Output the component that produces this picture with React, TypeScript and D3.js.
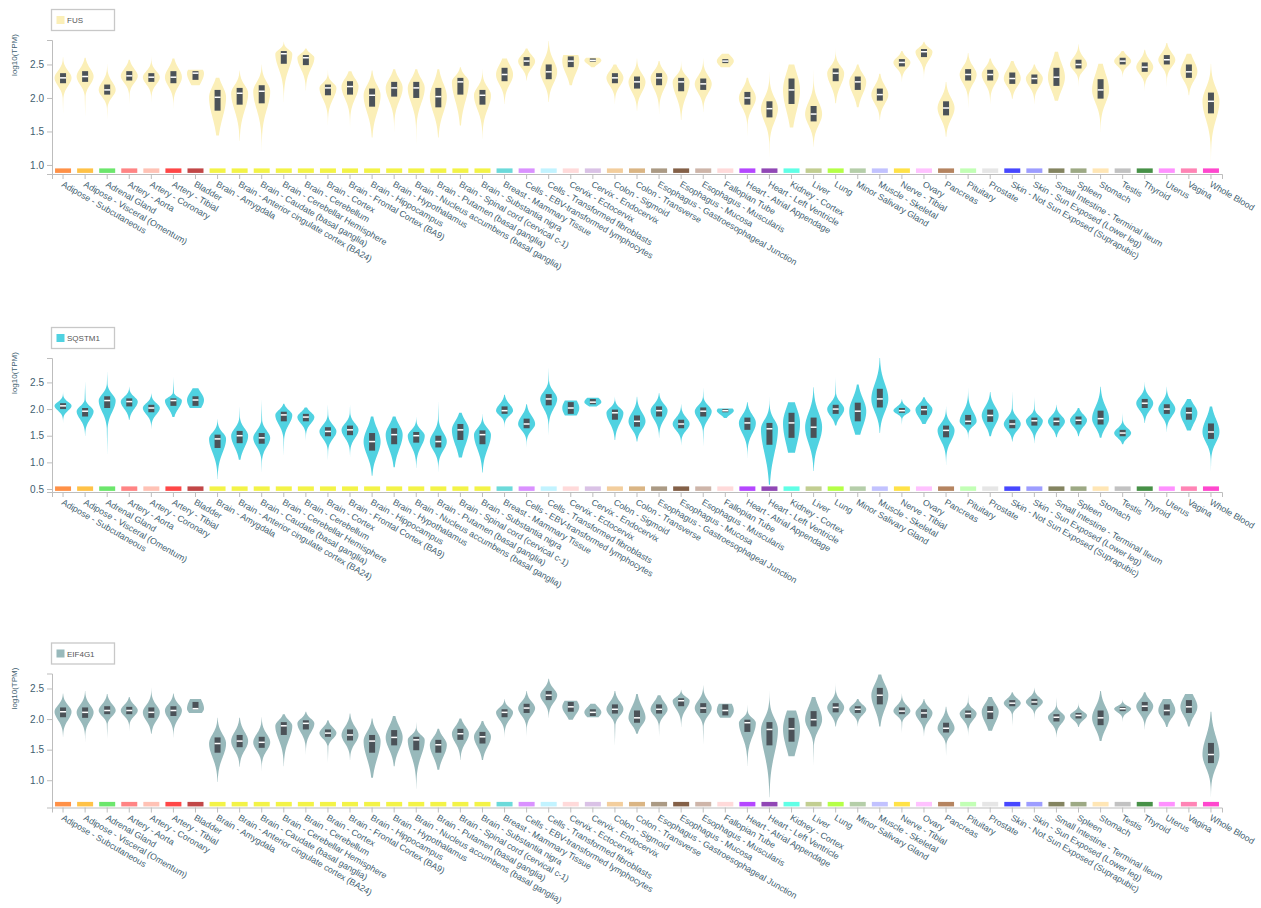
import React, { useEffect, useRef } from 'react';
import * as d3 from 'd3';

const tissues = [
  'Adipose - Subcutaneous', 'Adipose - Visceral (Omentum)', 'Adrenal Gland', 'Artery - Aorta',
  'Artery - Coronary', 'Artery - Tibial', 'Bladder', 'Brain - Amygdala',
  'Brain - Anterior cingulate cortex (BA24)', 'Brain - Caudate (basal ganglia)',
  'Brain - Cerebellar Hemisphere', 'Brain - Cerebellum', 'Brain - Cortex',
  'Brain - Frontal Cortex (BA9)', 'Brain - Hippocampus', 'Brain - Hypothalamus',
  'Brain - Nucleus accumbens (basal ganglia)', 'Brain - Putamen (basal ganglia)',
  'Brain - Spinal cord (cervical c-1)', 'Brain - Substantia nigra', 'Breast - Mammary Tissue',
  'Cells - EBV-transformed lymphocytes', 'Cells - Transformed fibroblasts', 'Cervix - Ectocervix',
  'Cervix - Endocervix', 'Colon - Sigmoid', 'Colon - Transverse',
  'Esophagus - Gastroesophageal Junction', 'Esophagus - Mucosa', 'Esophagus - Muscularis',
  'Fallopian Tube', 'Heart - Atrial Appendage', 'Heart - Left Ventricle', 'Kidney - Cortex',
  'Liver', 'Lung', 'Minor Salivary Gland', 'Muscle - Skeletal', 'Nerve - Tibial', 'Ovary',
  'Pancreas', 'Pituitary', 'Prostate', 'Skin - Not Sun Exposed (Suprapubic)',
  'Skin - Sun Exposed (Lower leg)', 'Small Intestine - Terminal Ileum', 'Spleen', 'Stomach',
  'Testis', 'Thyroid', 'Uterus', 'Vagina', 'Whole Blood',
];

const tissueColors = [
  '#FF6600', '#FFAA00', '#33DD33', '#FF5555', '#FFAA99', '#FF0000', '#AA0000',
  '#EEEE00', '#EEEE00', '#EEEE00', '#EEEE00', '#EEEE00', '#EEEE00', '#EEEE00',
  '#EEEE00', '#EEEE00', '#EEEE00', '#EEEE00', '#EEEE00', '#EEEE00',
  '#33CCCC', '#CC66FF', '#AAEEFF', '#FFCCCC', '#CCAADD', '#EEBB77', '#CC9955',
  '#8B7355', '#552200', '#BB9988', '#FFCCCC', '#9900FF', '#660099', '#22FFDD',
  '#AABB66', '#99FF00', '#99BB88', '#AAAAFF', '#FFD700', '#FFAAFF', '#995522',
  '#AAFF99', '#DDDDDD', '#0000FF', '#7777FF', '#555522', '#778855', '#FFDD99',
  '#AAAAAA', '#006600', '#FF66FF', '#FF5599', '#FF00BB',
];

// tissues with few samples: truncated, blunt violins
const smallSampleTissues = [6, 23, 24, 30];

// [tail low, Q1, median, Q3, tail high] in log10(TPM)
const fusStats = [
  [1.74, 2.22, 2.30, 2.37, 2.61], [1.69, 2.24, 2.32, 2.40, 2.60], [1.66, 2.05, 2.12, 2.20, 2.51],
  [1.89, 2.26, 2.33, 2.40, 2.57], [1.91, 2.24, 2.31, 2.37, 2.64], [1.81, 2.22, 2.31, 2.40, 2.59],
  [2.19, 2.27, 2.37, 2.40, 2.42], [1.44, 1.81, 2.01, 2.12, 2.30], [1.36, 1.90, 2.07, 2.15, 2.41],
  [1.21, 1.92, 2.10, 2.19, 2.50], [1.94, 2.51, 2.66, 2.70, 2.84], [2.11, 2.49, 2.60, 2.64, 2.74],
  [1.59, 2.04, 2.15, 2.20, 2.44], [1.54, 2.05, 2.17, 2.25, 2.40], [1.41, 1.87, 2.04, 2.14, 2.41],
  [1.49, 2.02, 2.15, 2.24, 2.43], [1.26, 2.00, 2.15, 2.24, 2.43], [1.41, 1.86, 2.02, 2.15, 2.43],
  [1.59, 2.05, 2.24, 2.30, 2.46], [1.39, 1.90, 2.04, 2.12, 2.43], [1.91, 2.25, 2.35, 2.45, 2.59],
  [2.26, 2.48, 2.55, 2.61, 2.74], [1.94, 2.28, 2.39, 2.50, 2.85], [2.19, 2.46, 2.55, 2.62, 2.64],
  [2.46, 2.54, 2.56, 2.59, 2.60], [1.91, 2.22, 2.30, 2.37, 2.50], [1.81, 2.14, 2.24, 2.32, 2.59],
  [1.76, 2.19, 2.30, 2.37, 2.55], [1.67, 2.10, 2.24, 2.30, 2.57], [1.79, 2.12, 2.21, 2.29, 2.59],
  [2.46, 2.52, 2.55, 2.58, 2.66], [1.39, 1.90, 2.00, 2.09, 2.30], [1.07, 1.71, 1.84, 1.95, 2.39],
  [1.56, 1.91, 2.12, 2.29, 2.50], [1.27, 1.65, 1.76, 1.88, 2.46], [1.92, 2.25, 2.37, 2.44, 2.75],
  [1.86, 2.12, 2.24, 2.32, 2.50], [1.67, 1.96, 2.05, 2.14, 2.36], [2.24, 2.47, 2.53, 2.58, 2.70],
  [2.26, 2.61, 2.69, 2.73, 2.84], [1.42, 1.74, 1.85, 1.95, 2.24], [1.81, 2.26, 2.35, 2.43, 2.67],
  [1.91, 2.26, 2.35, 2.42, 2.59], [1.99, 2.21, 2.29, 2.38, 2.55], [1.91, 2.21, 2.29, 2.35, 2.50],
  [1.96, 2.18, 2.31, 2.45, 2.69], [2.15, 2.44, 2.50, 2.57, 2.80], [1.49, 1.99, 2.12, 2.28, 2.51],
  [2.31, 2.50, 2.55, 2.60, 2.70], [2.10, 2.39, 2.46, 2.53, 2.72], [2.14, 2.50, 2.57, 2.64, 2.82],
  [2.04, 2.30, 2.39, 2.50, 2.66], [1.05, 1.77, 1.95, 2.08, 2.51],
];

const sqstm1Stats = [
  [1.74, 2.00, 2.06, 2.11, 2.33], [1.49, 1.86, 1.96, 2.02, 2.55], [1.08, 2.02, 2.16, 2.24, 2.74],
  [1.80, 2.05, 2.14, 2.20, 2.42], [1.63, 1.94, 2.02, 2.08, 2.29], [1.85, 2.06, 2.16, 2.20, 2.61],
  [2.02, 2.06, 2.17, 2.24, 2.39], [0.69, 1.27, 1.44, 1.52, 1.81], [1.05, 1.36, 1.50, 1.59, 2.08],
  [0.77, 1.35, 1.46, 1.55, 2.21], [1.08, 1.77, 1.89, 1.95, 2.10], [1.39, 1.77, 1.85, 1.91, 2.03],
  [1.02, 1.49, 1.58, 1.66, 2.11], [1.08, 1.51, 1.61, 1.69, 2.11], [0.75, 1.22, 1.39, 1.55, 1.86],
  [0.91, 1.34, 1.52, 1.64, 1.86], [0.89, 1.37, 1.50, 1.57, 1.86], [0.78, 1.28, 1.39, 1.50, 2.18],
  [1.09, 1.42, 1.61, 1.72, 1.93], [0.81, 1.34, 1.52, 1.60, 1.91], [1.63, 1.91, 1.97, 2.05, 2.27],
  [1.26, 1.64, 1.72, 1.82, 2.09], [1.47, 2.07, 2.19, 2.28, 2.80], [1.88, 1.91, 2.02, 2.13, 2.16],
  [2.05, 2.09, 2.13, 2.19, 2.21], [1.42, 1.80, 1.93, 1.99, 2.23], [1.39, 1.67, 1.77, 1.88, 2.23],
  [1.46, 1.86, 1.97, 2.05, 2.30], [1.32, 1.64, 1.72, 1.80, 2.09], [1.27, 1.86, 1.96, 2.03, 2.42],
  [1.83, 1.94, 1.97, 2.00, 2.01], [1.08, 1.61, 1.74, 1.84, 2.13], [0.58, 1.33, 1.63, 1.74, 2.24],
  [1.18, 1.46, 1.74, 1.93, 2.13], [0.84, 1.46, 1.66, 1.84, 2.41], [1.69, 1.91, 2.00, 2.08, 2.61],
  [1.52, 1.77, 1.96, 2.12, 2.46], [1.55, 2.03, 2.19, 2.38, 2.96], [1.69, 1.93, 1.97, 2.02, 2.19],
  [1.72, 1.89, 1.99, 2.06, 2.22], [0.94, 1.47, 1.60, 1.69, 2.05], [1.41, 1.71, 1.77, 1.89, 2.39],
  [1.49, 1.76, 1.88, 1.99, 2.32], [1.39, 1.64, 1.72, 1.80, 2.36], [1.36, 1.69, 1.78, 1.84, 2.24],
  [1.47, 1.69, 1.77, 1.84, 2.08], [1.49, 1.71, 1.79, 1.86, 2.02], [1.46, 1.71, 1.82, 1.97, 2.42],
  [1.34, 1.49, 1.55, 1.61, 1.94], [1.74, 2.02, 2.11, 2.19, 2.51], [1.57, 1.91, 2.00, 2.09, 2.42],
  [1.60, 1.80, 1.93, 2.03, 2.19], [0.80, 1.44, 1.57, 1.73, 2.05],
];

const eif4g1Stats = [
  [1.71, 2.03, 2.12, 2.19, 2.42], [1.60, 2.02, 2.11, 2.19, 2.46], [1.66, 2.08, 2.14, 2.21, 2.41],
  [1.79, 2.08, 2.14, 2.20, 2.36], [1.76, 2.02, 2.11, 2.19, 2.51], [1.70, 2.05, 2.14, 2.21, 2.42],
  [2.10, 2.16, 2.17, 2.28, 2.33], [0.97, 1.45, 1.60, 1.70, 2.02], [1.22, 1.54, 1.64, 1.74, 2.02],
  [1.12, 1.53, 1.62, 1.71, 2.03], [1.23, 1.74, 1.89, 1.95, 2.08], [1.42, 1.83, 1.93, 1.98, 2.12],
  [1.27, 1.71, 1.77, 1.83, 1.98], [1.33, 1.65, 1.74, 1.83, 2.09], [1.04, 1.45, 1.64, 1.74, 2.01],
  [1.23, 1.57, 1.70, 1.82, 2.05], [0.86, 1.49, 1.66, 1.71, 1.97], [1.17, 1.45, 1.58, 1.66, 1.84],
  [1.33, 1.66, 1.76, 1.84, 2.01], [1.33, 1.60, 1.71, 1.79, 1.97], [1.70, 2.03, 2.11, 2.16, 2.33],
  [1.70, 2.10, 2.18, 2.25, 2.46], [2.02, 2.31, 2.39, 2.46, 2.66], [1.99, 2.12, 2.20, 2.28, 2.30],
  [2.03, 2.05, 2.11, 2.16, 2.25], [1.53, 2.09, 2.16, 2.24, 2.46], [1.76, 1.94, 2.02, 2.14, 2.41],
  [1.70, 2.09, 2.16, 2.24, 2.39], [1.87, 2.21, 2.30, 2.34, 2.48], [1.56, 2.10, 2.18, 2.26, 2.55],
  [2.02, 2.06, 2.14, 2.24, 2.25], [1.23, 1.79, 1.94, 1.99, 2.25], [0.72, 1.57, 1.83, 1.95, 2.46],
  [1.39, 1.63, 1.84, 2.02, 2.14], [1.21, 1.88, 1.99, 2.13, 2.36], [1.88, 2.11, 2.19, 2.26, 2.59],
  [1.88, 2.10, 2.16, 2.21, 2.33], [1.88, 2.24, 2.39, 2.51, 2.73], [1.76, 2.08, 2.13, 2.19, 2.42],
  [1.72, 2.02, 2.10, 2.16, 2.33], [1.38, 1.78, 1.85, 1.94, 2.20], [1.72, 2.02, 2.09, 2.14, 2.42],
  [1.81, 2.00, 2.12, 2.21, 2.36], [1.87, 2.21, 2.26, 2.31, 2.44], [1.98, 2.23, 2.28, 2.33, 2.51],
  [1.70, 1.96, 2.03, 2.08, 2.37], [1.87, 2.01, 2.06, 2.10, 2.28], [1.64, 1.90, 2.02, 2.14, 2.46],
  [1.94, 2.13, 2.17, 2.20, 2.32], [1.83, 2.13, 2.21, 2.28, 2.44], [1.87, 2.06, 2.14, 2.24, 2.33],
  [1.88, 2.10, 2.20, 2.31, 2.41], [0.73, 1.28, 1.42, 1.61, 2.12],
];

const genes = ['FUS', 'SQSTM1', 'EIF4G1'];
const geneColors = ['#fbefb8', '#50d2e1', '#98b9bb'];
const geneStats = [fusStats, sqstm1Stats, eif4g1Stats];
const yDomains = [[0.865, 2.865], [0.444, 2.958], [0.554, 2.745]];
const yTickValues = [[1.0, 1.5, 2.0, 2.5], [0.5, 1.0, 1.5, 2.0, 2.5], [1.0, 1.5, 2.0, 2.5]];

const PANEL_OFFSETS = [0, 318, 633.5];
const PLOT_LEFT = 52;
const PLOT_RIGHT = 1222;
const PLOT_TOP = 40;
const PLOT_BOTTOM = 174;
const HALF_W = 8.5;
const BOX_W = 6;
const TAIL = 0.1;
const AXIS_COLOR = '#bdbdbd';
const TEXT_COLOR = '#41606f';
const FONT = '"Liberation Sans", Arial, Helvetica, sans-serif';

function violinProfile(st: number[], small: boolean): [number, number][] {
  const [lo, q1, med, q3, hi] = st;
  const n = 60;
  const minS = small ? (hi - lo) * 0.4 : 0.035;
  const sLo = Math.max((med - q1) / 0.6745, minS);
  const sHi = Math.max((q3 - med) / 0.6745, minS);
  const pts: [number, number][] = [];
  for (let i = 0; i <= n; i++) {
    const v = lo + ((hi - lo) * i) / n;
    const z = v < med ? (med - v) / sLo : (v - med) / sHi;
    let w = Math.exp(-0.5 * z * z);
    if (!small) {
      let t = TAIL;
      if (v < q1) t = TAIL * Math.pow((v - lo) / (q1 - lo), 1.5);
      else if (v > q3) t = TAIL * Math.pow((hi - v) / (hi - q3), 1.5);
      w = Math.max(w, t);
    }
    pts.push([v, w]);
  }
  return pts;
}

export default function App() {
  const ref = useRef<SVGSVGElement | null>(null);

  useEffect(() => {
    const svg = d3.select(ref.current);
    svg.selectAll('*').remove();

    const x = d3.scaleBand<string>().domain(tissues).range([PLOT_LEFT, PLOT_RIGHT]);
    const bw = x.bandwidth();

    genes.forEach((gene, gi) => {
      const g = svg.append('g').attr('transform', `translate(0,${PANEL_OFFSETS[gi]})`);
      const y = d3.scaleLinear().domain(yDomains[gi]).range([PLOT_BOTTOM, PLOT_TOP]);
      const stats = geneStats[gi];

      // legend
      g.append('rect')
        .attr('x', 51.5).attr('y', 9.5).attr('width', 63).attr('height', 21)
        .attr('fill', '#fff').attr('stroke', '#c8c8c8').attr('stroke-width', 1.3);
      g.append('rect')
        .attr('x', 56.5).attr('y', 16).attr('width', 8).attr('height', 8)
        .attr('fill', geneColors[gi]);
      g.append('text')
        .attr('x', 67).attr('y', 23.2)
        .attr('font-family', FONT).attr('font-size', 8).attr('fill', '#555')
        .text(gene);

      // y label
      g.append('text')
        .attr('transform', `translate(15,55) rotate(-90)`)
        .attr('text-anchor', 'middle').attr('dominant-baseline', 'middle')
        .attr('font-family', FONT).attr('font-size', 8).attr('fill', TEXT_COLOR)
        .text('log10(TPM)');

      // y axis
      const ya = g.append('g').attr('transform', `translate(${PLOT_LEFT},0)`)
        .call(d3.axisLeft(y).tickValues(yTickValues[gi]).tickFormat(d3.format('.1f')).tickSize(5).tickSizeOuter(5));
      ya.selectAll('path,line').attr('stroke', AXIS_COLOR);
      ya.selectAll('text').attr('font-family', FONT).attr('font-size', 10).attr('fill', TEXT_COLOR);

      // x axis
      const xa = g.append('g').attr('transform', `translate(0,${PLOT_BOTTOM})`)
        .call(d3.axisBottom(x).tickSize(5).tickSizeOuter(5));
      xa.selectAll('path,line').attr('stroke', AXIS_COLOR);
      xa.selectAll('text')
        .attr('x', 0).attr('y', 0).attr('dy', 0)
        .attr('transform', 'translate(-2,12) rotate(30)')
        .attr('text-anchor', 'start')
        .attr('font-family', FONT).attr('font-size', 8.8).attr('fill', TEXT_COLOR);

      // tissue color bars
      g.append('g').selectAll('rect').data(tissues).join('rect')
        .attr('x', (d) => (x(d) as number) + bw / 2 - 8)
        .attr('y', PLOT_BOTTOM - 5.6)
        .attr('width', 16).attr('height', 4.5)
        .attr('fill', (d, i) => tissueColors[i])
        .attr('opacity', 0.72);

      // violins
      const vg = g.append('g');
      tissues.forEach((t, ti) => {
        const cx = (x(t) as number) + bw / 2;
        const st = stats[ti];
        const small = smallSampleTissues.includes(ti);
        const prof = violinProfile(st, small);
        const area = d3.area<[number, number]>()
          .y((d) => y(d[0]))
          .x0((d) => cx - d[1] * HALF_W)
          .x1((d) => cx + d[1] * HALF_W)
          .curve(d3.curveBasis);
        vg.append('path').attr('d', area(prof) as string).attr('fill', geneColors[gi]);
        vg.append('rect')
          .attr('x', cx - BOX_W / 2).attr('width', BOX_W)
          .attr('y', y(st[3])).attr('height', Math.max(1, y(st[1]) - y(st[3])))
          .attr('fill', '#4b5258');
        vg.append('line')
          .attr('x1', cx - BOX_W / 2).attr('x2', cx + BOX_W / 2)
          .attr('y1', y(st[2])).attr('y2', y(st[2]))
          .attr('stroke', '#fff').attr('stroke-width', 1.5);
      });
    });
  }, []);

  return (
    <svg
      ref={ref}
      width={1261}
      height={908}
      style={{ position: 'absolute', left: 0, top: 0, background: '#fff' }}
    />
  );
}
